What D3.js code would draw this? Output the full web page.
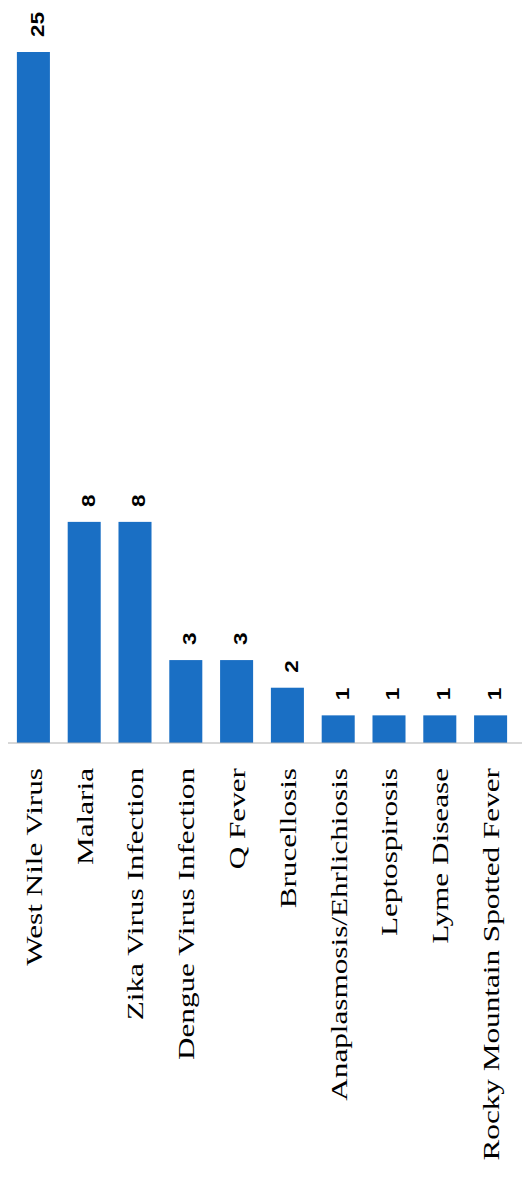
<!DOCTYPE html>
<html>
<head>
<meta charset="utf-8">
<script src="https://cdn.jsdelivr.net/npm/d3@7"></script>
<style>
  body { margin: 0; background: #fff; }
</style>
</head>
<body>
<div id="chart"></div>
<script>
// cases by disease
var diseases = ["West Nile Virus", "Malaria", "Zika Virus Infection", "Dengue Virus Infection",
  "Q Fever", "Brucellosis", "Anaplasmosis/Ehrlichiosis", "Leptospirosis", "Lyme Disease",
  "Rocky Mountain Spotted Fever"];
var cases = [25, 8, 8, 3, 3, 2, 1, 1, 1, 1];

var width = 522, height = 1184;
var baseY = 743;
var stretch = 1.3; // the page is squeezed, text looks long

var svg = d3.select("#chart").append("svg")
    .attr("width", width)
    .attr("height", height);

var x = d3.scaleBand()
    .domain(diseases)
    .range([8, 516])
    .paddingInner(0.35)
    .paddingOuter(0.175);

var y = d3.scaleLinear()
    .domain([0, 25])
    .range([baseY, 52]);

svg.selectAll("rect.bar")
    .data(cases)
    .enter()
    .append("rect")
    .attr("class", "bar")
    .attr("x", function(d, i){ return x(diseases[i]); })
    .attr("y", function(d){ return y(d); })
    .attr("width", x.bandwidth())
    .attr("height", function(d){ return y(0) - y(d); })
    .attr("fill", "#1a6fc4");

// baseline
svg.append("line")
    .attr("x1", 8).attr("x2", width)
    .attr("y1", baseY).attr("y2", baseY)
    .attr("stroke", "#b0b0b0")
    .attr("stroke-width", 1);

// value labels, rotated
svg.selectAll("text.val")
    .data(cases)
    .enter()
    .append("text")
    .attr("class", "val")
    .attr("transform", function(d, i){
        var cx = x(diseases[i]) + x.bandwidth() / 2 + 4;
        return "translate(" + cx + "," + (y(d) - 15) + ") rotate(-90) scale(1.25,1)";
    })
    .attr("dy", "0.36em")
    .attr("text-anchor", "start")
    .style("font-family", "'Liberation Sans', Arial, sans-serif")
    .style("font-weight", "bold")
    .style("font-size", "18px")
    .attr("fill", "#000")
    .text(function(d){ return d; });

// category labels, rotated
svg.selectAll("text.cat")
    .data(diseases)
    .enter()
    .append("text")
    .attr("class", "cat")
    .attr("transform", function(d){
        var cx = x(d) + x.bandwidth() / 2;
        return "translate(" + cx + ",768) rotate(-90) scale(" + stretch + ",1)";
    })
    .attr("dy", "0.35em")
    .attr("text-anchor", "end")
    .style("font-family", "'Liberation Serif', 'Times New Roman', serif")
    .style("font-size", "24px")
    .attr("fill", "#000")
    .text(function(d){ return d; });
</script>
</body>
</html>
